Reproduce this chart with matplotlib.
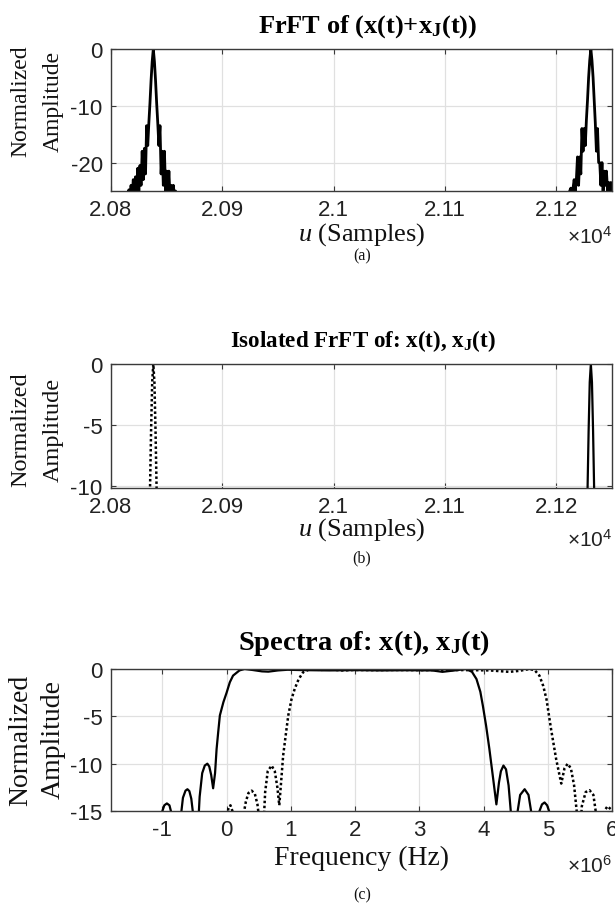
import matplotlib
matplotlib.use("Agg")
import matplotlib.pyplot as plt
import numpy as np

W, H = 615, 912

# (a) FrFT of the sum: two chirp peaks (dB), sampled at integer u offsets
FRFT_OFFSETS = list(range(-23, 22))
PEAK_X_U = 20838
PEAK_XJ_U = 21231
A_LEFT_DB = [-26, -24.8, -26.5, -24, -26, -23, -25.5, -22.5, -25, -21, -25, -20.5,
             -24, -18, -23, -17.5, -22, -13.5, -17, -13, -9.5, -5.5, -2.2, 0,
             -2.2, -5.5, -9.5, -13, -17, -13.5, -22, -18, -24, -18, -25, -21.5,
             -25.5, -21.5, -26, -24, -26, -24, -26, -25, -27]
A_RIGHT_DB = [-27, -26, -27, -26, -25, -24.5, -26, -24.5, -23, -25, -23, -19,
              -24, -19, -22, -14, -18, -14, -17, -12.5, -9, -5, -2, 0,
              -2, -5, -9, -13, -18, -14, -20, -20, -24, -20, -25, -21.5,
              -24, -21.5, -25, -23.5, -26, -23.5, -26, -24, -27]

# (b) isolated FrFT peaks
B_OFFSETS = [-5, -4, -3, -2, -1, 0, 1, 2, 3, 4, 5]
B_X_DB = [-22, -16, -10.5, -5.5, -1.5, 0, -1.5, -5.5, -10.5, -16, -22]
B_XJ_DB = [-22, -16, -10.5, -5.5, -1.5, 0, -1.5, -5.5, -10.5, -16, -22]

# (c) spectra, frequency in MHz
C_X_F = [-1.8, -1.05, -1.0, -0.97, -0.93, -0.89, -0.86, -0.82, -0.78, -0.72, -0.68,
         -0.64, -0.61, -0.58, -0.55, -0.51, -0.47, -0.42, -0.38, -0.34, -0.30, -0.27,
         -0.24, -0.21, -0.18, -0.156, -0.13, -0.105, -0.05, 0.0, 0.05, 0.1, 0.2, 0.28,
         0.4, 0.55, 0.65, 0.8, 0.95, 1.2, 1.6, 2.0, 2.4, 2.8, 3.2, 3.36, 3.55, 3.73,
         3.82, 3.89, 3.95, 3.99, 4.04, 4.09, 4.15, 4.2, 4.24, 4.27, 4.31, 4.35, 4.39,
         4.43, 4.46, 4.52, 4.57, 4.64, 4.70, 4.74, 4.77, 4.86, 4.91, 4.95, 4.99, 5.03,
         5.08, 6.0]
C_X_DB = [-25, -18, -15.0, -14.4, -14.2, -14.4, -15.2, -18, -20, -16, -13.6,
          -12.85, -12.7, -12.9, -13.7, -16, -20, -13.5, -11.0, -10.2, -10.0, -10.3,
          -11.2, -12.6, -11.0, -8.45, -6.6, -4.9, -3.5, -2.5, -1.4, -0.7, -0.15, 0.0,
          -0.1, -0.25, -0.28, -0.15, -0.08, -0.12, -0.15, -0.12, -0.15, -0.13, -0.15, -0.3, -0.15, 0.0,
          -0.3, -1.06, -2.4, -3.9, -6.0, -8.4, -11.6, -14.3, -12.0, -10.8, -10.2, -10.6, -12.3,
          -15.5, -20, -15.5, -13.3, -12.7, -13.3, -15, -20, -15.2, -14.3, -14.1, -14.4, -15.2,
          -20, -25]
C_XJ_F = [-1.8, -0.05, 0.0, 0.03, 0.06, 0.09, 0.12, 0.26, 0.3, 0.34, 0.39, 0.44,
          0.48, 0.52, 0.55, 0.6, 0.64, 0.7, 0.75, 0.79, 0.82, 0.85, 0.88, 0.92, 0.96,
          1.01, 1.06, 1.12, 1.19, 1.3, 1.45, 1.6, 1.8, 2.0, 2.3, 2.6, 3.0, 3.4, 3.8,
          4.1, 4.4, 4.55, 4.72, 4.8, 4.87, 4.93, 4.98, 5.05, 5.13, 5.21, 5.26, 5.31,
          5.36, 5.41, 5.45, 5.48, 5.53, 5.59, 5.65, 5.71, 5.75, 5.78, 5.88, 5.93, 5.98, 6.0]
C_XJ_DB = [-25, -20, -16, -14.6, -14.4, -15, -20, -15.5, -14.0, -13.1, -12.85, -13.2,
           -14.3, -16.5, -20, -13, -10.8, -10.2, -10.8, -12.5, -14.4, -11.8, -9.15, -7.0, -4.9,
           -3.2, -2.1, -1.1, -0.35, 0.0, -0.1, -0.05, -0.15, -0.1, -0.12, -0.1, -0.12, -0.1, -0.12,
           -0.15, -0.3, -0.2, 0.0, -0.15, -0.7, -1.8, -3.2, -6.3, -9.5, -12.1, -10.5, -10.0,
           -10.5, -12.3, -15, -20, -14.5, -13.0, -12.8, -13.3, -15.2, -20, -15.0, -14.5, -14.8, -15.2]

plt.rcParams["axes.unicode_minus"] = False
plt.rcParams["mathtext.fontset"] = "custom"
plt.rcParams["mathtext.rm"] = "Liberation Serif"
plt.rcParams["mathtext.it"] = "Liberation Serif:italic"
plt.rcParams["mathtext.bf"] = "Liberation Serif:bold"
plt.rcParams["mathtext.sf"] = "Liberation Sans"

SPINE = "#3a3a3a"
GRID = "#e0e0e0"
SERIF = "Liberation Serif"
SANS = "Liberation Sans"

fig = plt.figure(figsize=(W / 100, H / 100), dpi=100)


def px_axes(left, top, right, bottom):
    return fig.add_axes([left / W, 1 - bottom / H, (right - left) / W, (bottom - top) / H])


def ftext(x, y, s, **kw):
    fig.text(x / W, 1 - y / H, s, **kw)


def style(ax):
    for sp in ax.spines.values():
        sp.set_color(SPINE)
        sp.set_linewidth(1.0)
    ax.grid(True, color=GRID, linewidth=0.9)
    ax.set_axisbelow(True)
    ax.tick_params(direction="in", length=3.5, width=0.8, color=SPINE, top=True, right=True,
                   labelsize=16, labelcolor="#222222", pad=6)
    for lab in ax.get_xticklabels() + ax.get_yticklabels():
        lab.set_fontfamily(SANS)


ax_a = px_axes(111, 50, 612, 192)
ax_b = px_axes(111, 365, 612, 489)
ax_c = px_axes(111, 670, 612, 812)

off = np.array(FRFT_OFFSETS)
ax_a.plot(PEAK_X_U + off, A_LEFT_DB, color="black", linewidth=2.0)
ax_a.plot(PEAK_XJ_U + off, A_RIGHT_DB, color="black", linewidth=2.0)
ax_a.set_xlim(20800, 21250)
ax_a.set_ylim(-25, 0)
ax_a.set_xticks([20800, 20900, 21000, 21100, 21200])
ax_a.set_xticklabels(["2.08", "2.09", "2.1", "2.11", "2.12"])
ax_a.set_yticks([-20, -10, 0])
style(ax_a)

boff = np.array(B_OFFSETS)
ax_b.plot(PEAK_X_U + boff, B_XJ_DB, color="black", linewidth=1.8, linestyle=(0, (1, 1)))
ax_b.plot(PEAK_XJ_U + boff, B_X_DB, color="black", linewidth=1.6)
ax_b.set_xlim(20800, 21250)
ax_b.set_ylim(-10.2, 0)
ax_b.set_xticks([20800, 20900, 21000, 21100, 21200])
ax_b.set_xticklabels(["2.08", "2.09", "2.1", "2.11", "2.12"])
ax_b.set_yticks([-10, -5, 0])
style(ax_b)

ax_c.plot(np.array(C_X_F) * 1e6, C_X_DB, color="black", linewidth=1.6)
ax_c.plot(np.array(C_XJ_F) * 1e6, C_XJ_DB, color="black", linewidth=1.8, linestyle=(0, (1, 1)))
ax_c.set_xlim(-1.8e6, 6e6)
ax_c.set_ylim(-15, 0)
ax_c.set_xticks([i * 1e6 for i in range(-1, 7)])
ax_c.set_xticklabels([str(i) for i in range(-1, 7)])
ax_c.set_yticks([-15, -10, -5, 0])
style(ax_c)

title_kw = dict(fontweight="bold", family=SERIF, ha="center", va="baseline")
ftext(368, 33, r"FrFT of (x(t)+x$_\mathbf{J}$(t))", fontsize=19, **title_kw)
ftext(363, 347, r"Isolated FrFT of: x(t), x$_\mathbf{J}$(t)", fontsize=16.6, **title_kw)
ftext(364, 650, r"Spectra of: x(t), x$_\mathbf{J}$(t)", fontsize=20.5, **title_kw)

# two-line y labels, one text per line
ylab_kw = dict(family=SERIF, rotation=90, ha="center", va="center", color="#111111")
for yc, fs in ((101, 17), (430, 17.5), (740, 20)):
    ftext(21, yc, "Normalized", fontsize=fs, **ylab_kw)
    ftext(53, yc, "Amplitude", fontsize=fs, **ylab_kw)

xlab_kw = dict(family=SERIF, ha="center", va="center", color="#111111")
ftext(362, 235, r"$u$ (Samples)", fontsize=19, **xlab_kw)
ftext(362, 530, r"$u$ (Samples)", fontsize=19, **xlab_kw)
ftext(362, 858, "Frequency (Hz)", fontsize=20, **xlab_kw)

mult_kw = dict(fontsize=15, family=SANS, ha="right", va="center", color="#222222")
ftext(612, 237, r"$\mathsf{\times10^{4}}$", **mult_kw)
ftext(612, 540, r"$\mathsf{\times10^{4}}$", **mult_kw)
ftext(612, 866, r"$\mathsf{\times10^{6}}$", **mult_kw)

cap_kw = dict(fontsize=11.5, family=SERIF, ha="center", va="center", color="#111111")
ftext(362, 256, "(a)", **cap_kw)
ftext(362, 558, "(b)", **cap_kw)
ftext(362, 895, "(c)", **cap_kw)

fig.savefig("out.png", dpi=100)
